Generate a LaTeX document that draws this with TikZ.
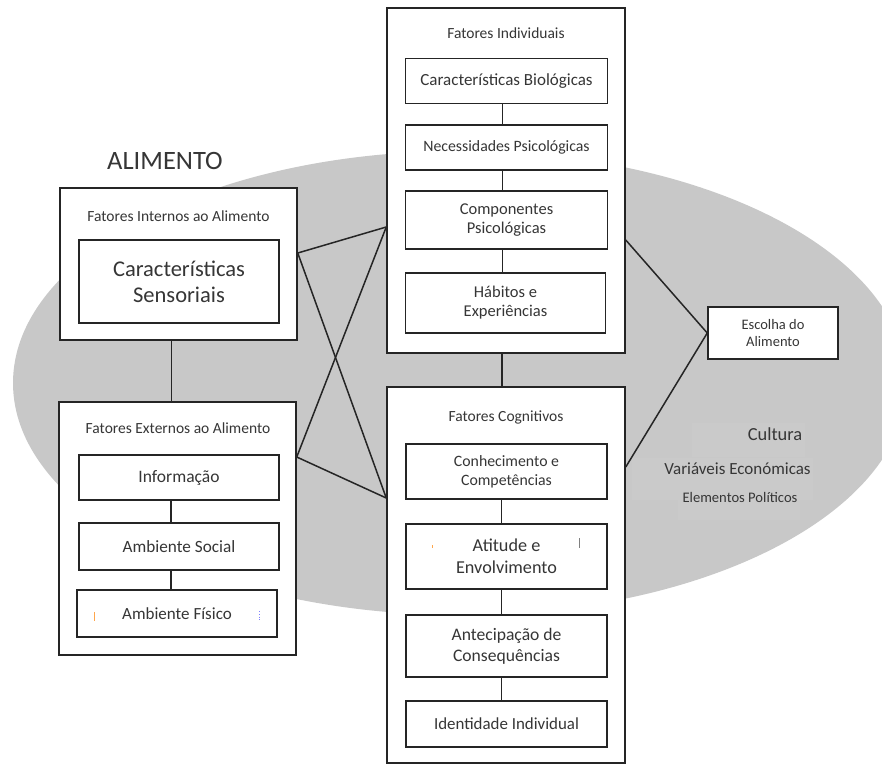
\documentclass[tikz,border=0pt]{standalone}
\usepackage{fontspec}
\setmainfont{Carlito}
\usetikzlibrary{calc}
\definecolor{ell}{HTML}{C8C8C8}
\definecolor{ellb}{HTML}{CACACA}
\definecolor{txt}{HTML}{363636}
\definecolor{ln}{HTML}{252525}
\tikzset{
  outer/.style={draw=ln, line width=1.5pt, fill=white, rectangle, inner sep=0pt, minimum width=#1},
  innerbox/.style={draw=ln, line width=1.5pt, fill=white, rectangle, inner sep=0pt, align=center, text=txt, font=\fontsize{16.5}{19}\selectfont},
  ttl/.style={text=txt, font=\fontsize{15.5}{17}\selectfont, inner sep=0pt},
  conn/.style={draw=ln, line width=1.5pt},
}
\begin{document}
\begin{tikzpicture}[x=1pt,y=-1pt]
\useasboundingbox (0,0) rectangle (882,764);
\fill[white] (0,0) rectangle (882,764);
% ellipse
\fill[ell] (460,383) ellipse [x radius=447, y radius=232];
\fill[ellb] (692,423) rectangle (805,457);
\fill[ellb] (632,458) rectangle (813,500);
\fill[ellb] (678,500) rectangle (800,520);

\node[text=txt, font=\fontsize{26.5}{28}\selectfont, inner sep=0pt] (alim) at (165,161) {ALIMENTO};

% Fatores Internos
\node[outer=237pt, minimum height=152pt] (int) at (178.5,264) {};
\node[ttl] (intt) at (178.5,216) {Fatores Internos ao Alimento};
\node[innerbox, minimum width=200pt, minimum height=83pt, font=\fontsize{22.5}{26}\selectfont] (sens) at (179,281.5) {Características\\Sensoriais};

% Fatores Externos
\node[outer=237pt, minimum height=253pt] (ext) at (177.5,528.5) {};
\node[ttl] (extt) at (178,428) {Fatores Externos ao Alimento};
\node[innerbox, minimum width=200pt, minimum height=45pt, font=\fontsize{17.5}{20}\selectfont] (info) at (179,477.5) {Informação};
\node[innerbox, minimum width=200pt, minimum height=47pt, font=\fontsize{17.2}{20}\selectfont] (soc) at (179,546.5) {Ambiente Social};
\node[innerbox, minimum width=200pt, minimum height=47pt, font=\fontsize{17}{20}\selectfont] (fis) at (177,613.5) {Ambiente Físico};
\draw[orange!70, line width=0.6pt] (94,612) -- (94,621);
\draw[blue!50, line width=0.8pt, dotted] (259,611) -- (259,621);

% Fatores Individuais
\node[outer=238pt, minimum height=345pt] (ind) at (506,180.5) {};
\node[ttl] (indt) at (506,33) {Fatores Individuais};
\node[innerbox, minimum width=202pt, minimum height=45pt, font=\fontsize{17}{20}\selectfont] (bio) at (506.5,81) {Características Biológicas};
\node[innerbox, minimum width=202pt, minimum height=45pt, font=\fontsize{15.8}{19}\selectfont] (nec) at (506.5,147.5) {Necessidades Psicológicas};
\node[innerbox, minimum width=202pt, minimum height=58pt] (comp) at (506.5,220) {Componentes\\Psicológicas};
\node[innerbox, minimum width=200pt, minimum height=60pt] (hab) at (505.5,303) {Hábitos e\\Experiências};

% Fatores Cognitivos
\node[outer=238pt, minimum height=376pt] (cog) at (506,575) {};
\node[ttl] (cogt) at (506,417) {Fatores Cognitivos};
\node[innerbox, minimum width=201pt, minimum height=55pt, font=\fontsize{15.8}{19}\selectfont] (conh) at (506.5,471.5) {Conhecimento e\\Competências};
\node[innerbox, minimum width=201pt, minimum height=65pt, font=\fontsize{18.2}{22}\selectfont] (atit) at (506.5,556.5) {Atitude e\\Envolvimento};
\node[innerbox, minimum width=201pt, minimum height=62pt, font=\fontsize{17.6}{21}\selectfont] (ante) at (506.5,646) {Antecipação de\\Consequências};
\node[innerbox, minimum width=201pt, minimum height=46pt, font=\fontsize{16.9}{20}\selectfont] (iden) at (506.5,724) {Identidade Individual};
\draw[orange!70, line width=0.6pt] (432,545) -- (432,548);
\draw[gray, line width=0.6pt] (579,538) -- (579,548);

% Escolha
\node[innerbox, minimum width=130pt, minimum height=52pt, font=\fontsize{14.5}{17}\selectfont] (esc) at (773,333) {Escolha do\\Alimento};

% outside labels
\node[text=txt, font=\fontsize{18.4}{20}\selectfont, inner sep=0pt] (cult) at (775,434) {Cultura};
\node[text=txt, font=\fontsize{17}{19}\selectfont, inner sep=0pt] (var) at (737.5,469) {Variáveis Económicas};
\node[text=txt, font=\fontsize{14.6}{16}\selectfont, inner sep=0pt] (pol) at (740,497) {Elementos Políticos};

% connectors inside boxes
\draw[conn] ([xshift=-7pt]int.south) -- ([xshift=-6pt]ext.north);
\draw[conn] ([xshift=-8pt]info.south) -- ([xshift=-8pt]soc.north);
\draw[conn] ([xshift=-8pt]soc.south) -- ([xshift=-6pt]fis.north);
\draw[conn] ([xshift=-4pt]bio.south) -- ([xshift=-4pt]nec.north);
\draw[conn] ([xshift=-4pt]nec.south) -- ([xshift=-4pt]comp.north);
\draw[conn] ([xshift=-4pt]comp.south) -- ([xshift=-3pt]hab.north);
\draw[conn] ([xshift=-4pt]ind.south) -- ([xshift=-4pt]cog.north);
\draw[conn] ([xshift=-5pt]conh.south) -- ([xshift=-5pt]atit.north);
\draw[conn] ([xshift=-5pt]atit.south) -- ([xshift=-5pt]ante.north);
\draw[conn] ([xshift=-5pt]ante.south) -- ([xshift=-5pt]iden.north);

% cross
\draw[conn] ([yshift=11pt]int.east) -- ([yshift=-46.5pt]ind.west);
\draw[conn] ([yshift=11pt]int.east) -- ([yshift=77pt]cog.west);
\draw[conn] ([yshift=71.5pt]ext.east) -- ([yshift=-46.5pt]ind.west);
\draw[conn] ([yshift=71.5pt]ext.east) -- ([yshift=77pt]cog.west);

% to Escolha
\draw[conn] ([yshift=-59.5pt]ind.east) -- (esc.west);
\draw[conn] ([yshift=108pt]cog.east) -- (esc.west);
\end{tikzpicture}
\end{document}
